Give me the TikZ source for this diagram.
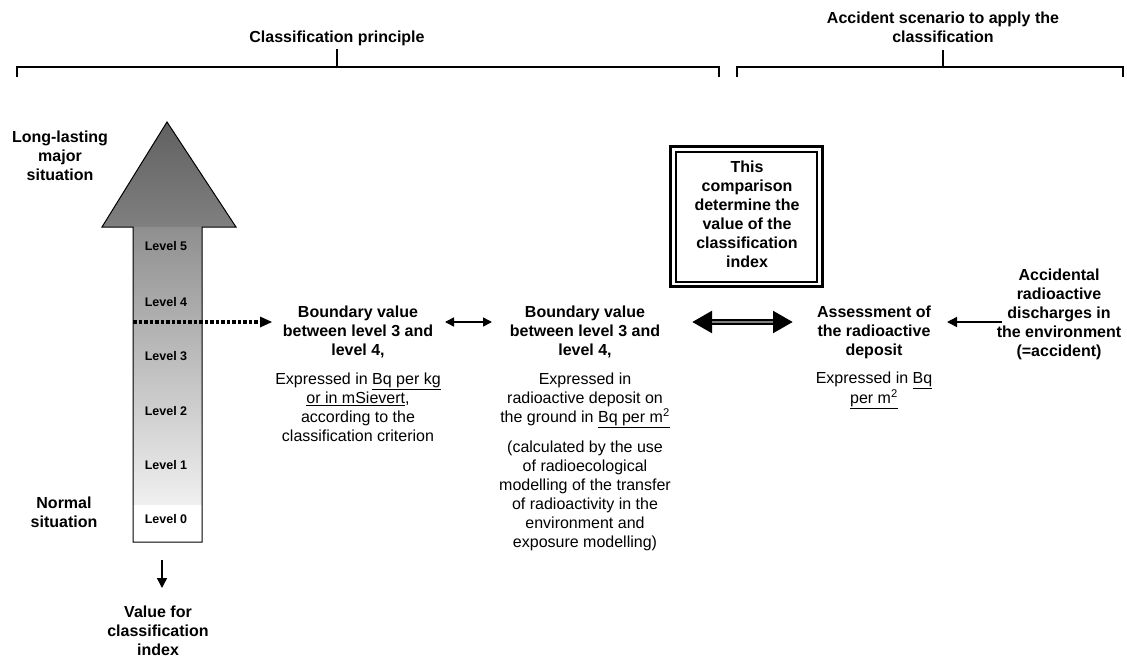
\documentclass[tikz,border=0pt]{standalone}
\usepackage{fontspec}
\setmainfont{Liberation Sans}
\usetikzlibrary{arrows.meta}
\tikzset{
  every node/.style={inner sep=0pt, outer sep=0pt},
  head/.style={font=\fontsize{16bp}{19bp}\selectfont\bfseries, align=center, anchor=north},
  body/.style={font=\fontsize{16bp}{19bp}\selectfont, align=center, anchor=north},
  lvl/.style={font=\fontsize{12.5bp}{15bp}\selectfont\bfseries},
  brace/.style={line width=1.3bp, black},
  link/.style={line width=1.5bp, -{Triangle[length=10bp,width=10bp]}},
}
\definecolor{headtop}{gray}{0.38}
\definecolor{headbot}{gray}{0.50}
\definecolor{shafttop}{gray}{0.56}
\definecolor{shaftbot}{gray}{0.94}
\begin{document}
\begin{tikzpicture}[x=1bp,y=-1bp]
\useasboundingbox (0,0) rectangle (1127,660);

% section brackets
\draw[brace] (17,77) -- (17,67) -- (719,67) -- (719,77);
\draw[brace] (737,77) -- (737,67) -- (1123,67) -- (1123,77);
\coordinate (b1) at (337,67);
\coordinate (b2) at (943,67);
\node[head] (t1) at (337,31) {Classification principle};
\node[head] (t2) at (943,12) {Accident scenario to apply the\\classification};
\draw[brace] (b1) -- (t1.south |- 0,49);
\draw[brace] (b2) -- (t2.south |- 0,50);

% the level arrow: head and graded shaft
\shade[top color=headtop, bottom color=headbot]
  (167,122) -- (236,227) -- (102,227) -- cycle;
\shade[top color=shafttop, bottom color=shaftbot] (133,227) rectangle (202,505);
\fill[white] (133,505) rectangle (202,542);
\draw[line width=1bp, line join=miter]
  (167,122) -- (236,227) -- (202,227) -- (202,542) -- (133,542) -- (133,227) -- (102,227) -- cycle;

\node[lvl] (l5) at (166,246) {Level 5};
\node[lvl] (l4) at (166,302) {Level 4};
\node[lvl] (l3) at (166,356) {Level 3};
\node[lvl] (l2) at (166,411) {Level 2};
\node[lvl] (l1) at (166,465) {Level 1};
\node[lvl] (l0) at (166,519) {Level 0};
\coordinate (cut) at (133,322);

% side labels of the arrow
\node[head] (major) at (60,131) {Long-lasting\\major\\situation};
\node[head] (normal) at (64,497) {Normal\\situation};
\node[head] (value) at (158,606) {Value for\\classification\\index};
\coordinate (down) at (162,560);
\coordinate (downend) at (162,588);
\draw[link] (down) -- (downend);

% boundary values
\node[head] (bv1) at (358,306) {Boundary value\\between level 3 and\\level 4,};
\node[body] (bv1d) at (358,373) {Expressed in \underline{Bq per kg}\\\underline{or in mSievert},\\according to the\\classification criterion};
\node[head] (bv2) at (585,306) {Boundary value\\between level 3 and\\level 4,};
\node[body] (bv2d) at (585,373) {Expressed in\\radioactive deposit on\\the ground in \underline{Bq per m\textsuperscript{2}}};
\node[body] (bv2n) at (585,441) {(calculated by the use\\of radioecological\\modelling of the transfer\\of radioactivity in the\\environment and\\exposure modelling)};

% comparison box
\node[draw, line width=3bp, minimum width=152bp, minimum height=140bp] (cmpbox) at (746.5,216.5) {};
\draw[line width=1.3bp] (676,152) rectangle (817,282);
\node[head] (cmp) at (747,161) {This\\comparison\\determine the\\value of the\\classification\\index};

% accident side
\node[head] (assess) at (874,306) {Assessment of\\the radioactive\\deposit};
\node[body] (assessd) at (874,372) {Expressed in \underline{Bq}\\\underline{per m\textsuperscript{2}}};
\node[head] (acc) at (1059,269) {Accidental\\radioactive\\discharges in\\the environment\\(=accident)};

% connectors
\coordinate (cutend) at (272,322);
\draw[line width=3.2bp, dash pattern=on 3.5bp off 2bp] (cut) -- (262,322);
\fill (cutend) -- (260,316.5) -- (260,327.5) -- cycle;
\coordinate (e1) at (445,322);
\coordinate (e2) at (492,322);
\draw[line width=1.5bp, {Triangle[length=9bp,width=9bp]}-{Triangle[length=9bp,width=9bp]}] (e1) -- (e2);
\coordinate (f1) at (692,322);
\coordinate (f2) at (793,322);
\draw[line width=5.5bp, {Triangle[length=20bp,width=21bp]}-{Triangle[length=20bp,width=21bp]}] (f1) -- (f2);
\draw[line width=1.8bp, gray] (712,322) -- (773,322);
\coordinate (g1) at (1002,322);
\coordinate (g2) at (947,322);
\draw[link] (g1) -- (g2);
\end{tikzpicture}
\end{document}
